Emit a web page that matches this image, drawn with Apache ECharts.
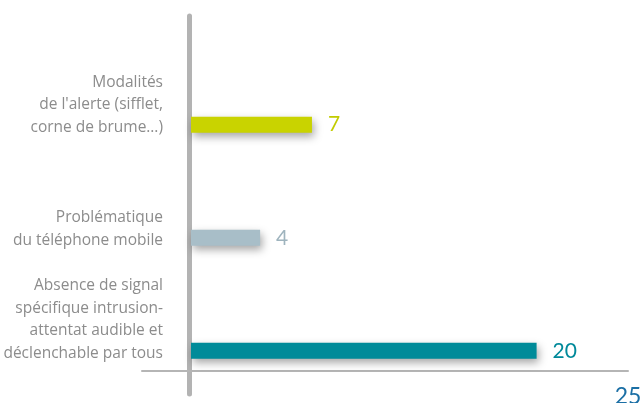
<!DOCTYPE html>
<html><head><meta charset="utf-8">
<script src="https://cdn.jsdelivr.net/npm/echarts@6/dist/echarts.min.js"></script>
<style>html,body{margin:0;padding:0;background:#fff}#c{width:643px;height:403px}</style>
</head><body><div id="c"></div>
<script>
const categories = [
  "Absence de signal\nspécifique intrusion-\nattentat audible et\ndéclenchable par tous",
  "Problématique\ndu téléphone mobile",
  "Modalités\nde l'alerte (sifflet,\ncorne de brume…)"
];
const values = [20, 4, 7];
const barColors = ["#008b99", "#a8bec8", "#c9d300"];
const labelColors = ["#00899a", "#9fb4be", "#c2cc00"];
const xMax = 25;

const chart = echarts.init(document.getElementById('c'), null, {renderer: 'canvas'});
const FONT = 'Lato';
chart.setOption({
  animation: false,
  backgroundColor: '#fff',
  grid: [
    {left: 191, width: 432, top: 124.7, height: 226.1, outerBoundsMode: 'none', containLabel: false},
    {left: 189, width: 1, top: 16, height: 378, outerBoundsMode: 'none', containLabel: false},
    {left: 142, right: 15, top: 16, height: 355, outerBoundsMode: 'none', containLabel: false}
  ],
  xAxis: [
    {gridIndex: 0, type: 'value', min: 0, max: xMax, interval: xMax, offset: 20,
     axisLine: {show: false}, axisTick: {show: false}, splitLine: {show: false},
     axisLabel: {showMinLabel: false, color: '#1b6fa5', fontSize: 23, fontFamily: FONT, margin: 14, padding: [0, 0, 0, 10]}},
    {gridIndex: 1, type: 'value', show: false},
    {gridIndex: 2, type: 'value', min: 0, max: 1,
     axisLine: {show: true, lineStyle: {color: '#b5b5b5', width: 2}},
     axisTick: {show: false}, axisLabel: {show: false}, splitLine: {show: false}}
  ],
  yAxis: [
    {gridIndex: 0, type: 'category', data: categories, boundaryGap: false,
     axisLine: {show: false}, axisTick: {show: false},
     axisLabel: {color: '#8c8c8c', fontSize: 15.5, fontFamily: 'Open Sans', lineHeight: 22.5,
                 align: 'right', verticalAlign: 'bottom', margin: 28, padding: [0, 0, -14, 0]}},
    {gridIndex: 1, type: 'value', min: 0, max: 1,
     axisLine: {show: true, lineStyle: {color: '#b3b3b3', width: 5}},
     axisTick: {show: false}, axisLabel: {show: false}, splitLine: {show: false}},
    {gridIndex: 2, type: 'value', show: false}
  ],
  series: [{
    type: 'bar', xAxisIndex: 0, yAxisIndex: 0,
    barWidth: 16,
    data: values.map((v, i) => ({
      value: v,
      itemStyle: {color: barColors[i], shadowColor: 'rgba(0,0,0,0.35)', shadowBlur: 8, shadowOffsetX: 2, shadowOffsetY: 4},
      label: {color: labelColors[i]}
    })),
    label: {show: true, position: 'right', distance: 16, fontSize: 21, fontFamily: FONT}
  }]
});
</script></body></html>
